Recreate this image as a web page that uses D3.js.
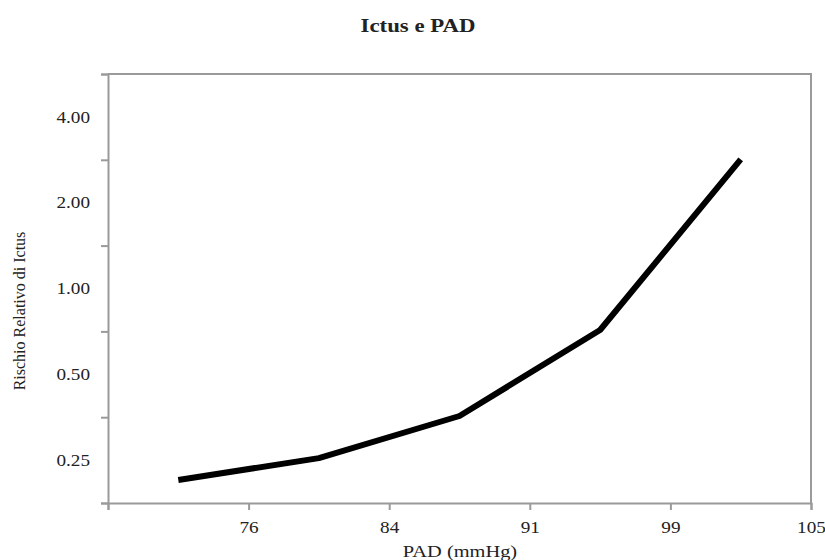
<!DOCTYPE html>
<html>
<head>
<meta charset="utf-8">
<script src="https://cdn.jsdelivr.net/npm/d3@7"></script>
<style>
  body { margin: 0; background: #fff; }
  text { font-family: "Liberation Serif", "DejaVu Serif", serif; fill: #222; }
</style>
</head>
<body>
<div id="chart"></div>
<script>
// Rischio relativo per classe di PAD
const classes = [0, 1, 2, 3, 4];
const relRisk = [0.213, 0.254, 0.357, 0.715, 2.84];
const xTickLabels = ["76", "84", "91", "99", "105"];
const yTickLabels = [4, 2, 1, 0.5, 0.25];

const width = 825, height = 560;
const margin = { top: 74, right: 14, bottom: 57, left: 108 };
const stretch = 1.2; // the original's horizontal text is a bit wide

const svg = d3.select("#chart")
  .append("svg")
  .attr("width", width)
  .attr("height", height);

// X: each class occupies one interval, boundaries are labelled
const x = d3.scaleLinear()
  .domain([0, classes.length])
  .range([margin.left, width - margin.right]);

// Y: log2, axis runs half a step beyond the outer labels
const y = d3.scaleLog()
  .base(2)
  .domain([Math.pow(2, -2.5), Math.pow(2, 2.5)])
  .range([height - margin.bottom, margin.top]);

const axisColor = "#9a9a9a";

// frame (top and right)
svg.append("path")
  .attr("d", `M${x(0)},${y.range()[1]}H${x(5)}V${y.range()[0]}`)
  .attr("fill", "none")
  .attr("stroke", axisColor)
  .attr("stroke-width", 2);

// y tick marks at the half steps
const yMarks = d3.range(-2.5, 3, 1).map(e => Math.pow(2, e));
svg.append("g")
  .attr("class", "y-marks")
  .attr("transform", `translate(${margin.left},0)`)
  .call(d3.axisLeft(y).tickValues(yMarks).tickSize(7).tickFormat(""))
  .call(g => g.selectAll("path, line").attr("stroke", axisColor).attr("stroke-width", 2));

// y labels at the powers of two
svg.append("g")
  .attr("class", "y-labels")
  .attr("transform", `translate(${margin.left},0)`)
  .call(d3.axisLeft(y).tickValues(yTickLabels).tickSize(0).tickPadding(18)
    .tickFormat(d3.format(".2f")))
  .call(g => g.select(".domain").remove())
  .selectAll("text")
  .attr("class", "wide")
  .style("font-size", "16px")
  .style("font-family", "'Liberation Serif', serif")
  .attr("fill", "#222");

// x axis
svg.append("g")
  .attr("class", "x-axis")
  .attr("transform", `translate(0,${height - margin.bottom})`)
  .call(d3.axisBottom(x).tickValues(d3.range(0, 6)).tickSize(7).tickPadding(12)
    .tickFormat(i => i === 0 ? "" : xTickLabels[i - 1]))
  .call(g => g.selectAll("path, line").attr("stroke", axisColor).attr("stroke-width", 2))
  .selectAll("text")
  .attr("class", "wide")
  .style("font-size", "16px")
  .style("font-family", "'Liberation Serif', serif")
  .attr("fill", "#222");

// line
const line = d3.line()
  .x(d => x(d + 0.5))
  .y(d => y(relRisk[d]));

svg.append("path")
  .datum(classes)
  .attr("d", line)
  .attr("fill", "none")
  .attr("stroke", "#000")
  .attr("stroke-width", 6)
  .attr("stroke-linejoin", "round");

// titles
svg.append("text")
  .attr("class", "wide")
  .attr("x", 418)
  .attr("y", 32)
  .attr("text-anchor", "middle")
  .style("font-size", "19px")
  .style("font-weight", "bold")
  .text("Ictus e PAD");

svg.append("text")
  .attr("class", "wide")
  .attr("x", 460)
  .attr("y", 557)
  .attr("text-anchor", "middle")
  .style("font-size", "17px")
  .text("PAD (mmHg)");

svg.append("text")
  .attr("transform", "translate(25,311) rotate(-90)")
  .attr("text-anchor", "middle")
  .style("font-size", "16px")
  .text("Rischio Relativo di Ictus");

// widen horizontal text
svg.selectAll("text.wide").each(function() {
  const len = this.getComputedTextLength();
  if (len > 0) {
    d3.select(this)
      .attr("textLength", len * stretch)
      .attr("lengthAdjust", "spacingAndGlyphs");
  }
});
</script>
</body>
</html>
